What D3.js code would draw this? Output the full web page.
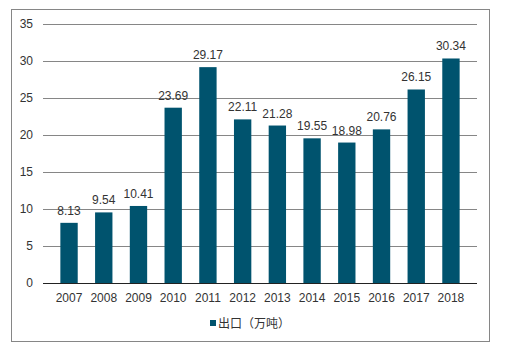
<!DOCTYPE html>
<html><head><meta charset="utf-8">
<script src="https://cdn.jsdelivr.net/npm/d3@7"></script>
<style>body{margin:0;background:#fff}svg{display:block}</style>
</head><body>
<script>
const categories = ["2007","2008","2009","2010","2011","2012","2013","2014","2015","2016","2017","2018"];
const values = [8.13,9.54,10.41,23.69,29.17,22.11,21.28,19.55,18.98,20.76,26.15,30.34];
const yTicks = [0,5,10,15,20,25,30,35];
const seriesName = "出口（万吨）";

const W=508,H=354;
const svg=d3.select("body").append("svg").attr("width",W).attr("height",H);
svg.append("rect").attr("x",11.5).attr("y",9.5).attr("width",478).attr("height",332)
  .attr("fill","#fff").attr("stroke","#868686").attr("stroke-width",1);
const font="Arial, 'Liberation Sans', sans-serif";
const x=d3.scaleBand().domain(categories).range([43,477]).padding(0.5);
const y=d3.scaleLinear().domain([0,35]).range([283,24]);
const g=svg.append("g");
g.selectAll("line.grid").data(yTicks.filter(d=>d>0)).join("line")
  .attr("x1",43).attr("x2",477).attr("y1",d=>Math.round(y(d))+0.5).attr("y2",d=>Math.round(y(d))+0.5)
  .attr("stroke","#868686").attr("stroke-width",1);
g.selectAll("text.yt").data(yTicks).join("text")
  .attr("x",33).attr("y",d=>y(d)).attr("dy","0.35em").attr("text-anchor","end")
  .attr("font-family",font).attr("font-size",12).attr("fill","#333").text(d=>d);
g.selectAll("rect.bar").data(values).join("rect")
  .attr("x",(d,i)=>x(categories[i])).attr("width",x.bandwidth())
  .attr("y",d=>y(d)).attr("height",d=>y(0)-y(d)).attr("fill","#00536e");
g.append("line").attr("x1",43).attr("x2",477).attr("y1",283.5).attr("y2",283.5).attr("stroke","#222").attr("stroke-width",1);
g.selectAll("text.lbl").data(values).join("text")
  .attr("x",(d,i)=>x(categories[i])+x.bandwidth()/2).attr("y",d=>y(d)-8)
  .attr("text-anchor","middle").attr("font-family",font).attr("font-size",12).attr("fill","#333")
  .text(d=>d.toFixed(2));
g.selectAll("text.xt").data(categories).join("text")
  .attr("x",d=>x(d)+x.bandwidth()/2).attr("y",298).attr("dy","0.35em")
  .attr("text-anchor","middle").attr("font-family",font).attr("font-size",12).attr("fill","#333").text(d=>d);
svg.append("rect").attr("x",210).attr("y",320).attr("width",6).attr("height",6).attr("fill","#00536e");
svg.append("text").attr("x",218).attr("y",323.5).attr("dy","0.35em")
  .attr("font-family","'Noto Sans CJK SC', sans-serif").attr("font-size",12).attr("fill","#333").text(seriesName);
</script>
</body></html>
